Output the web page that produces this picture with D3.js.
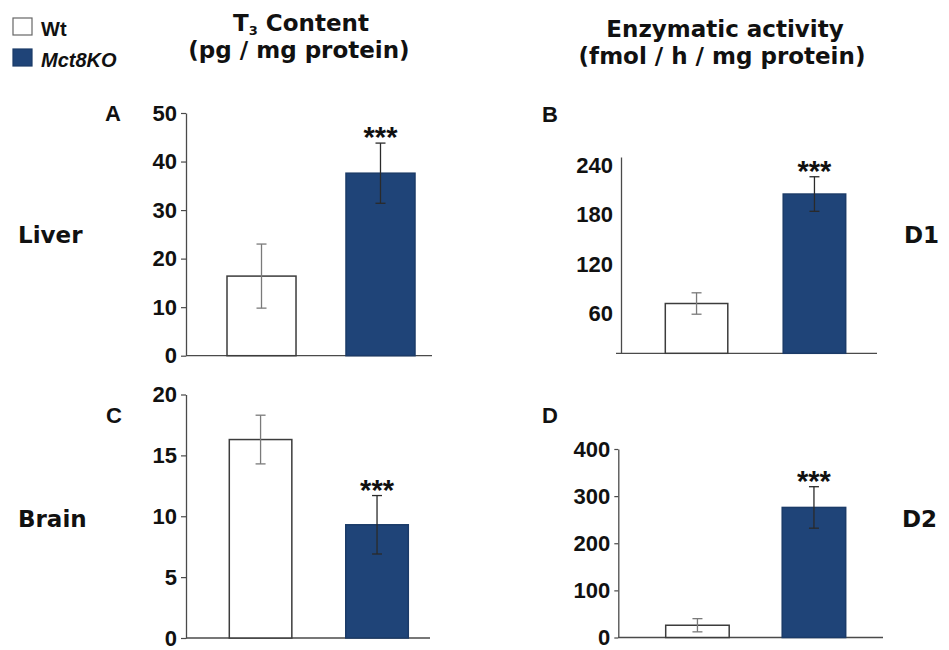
<!DOCTYPE html>
<html>
<head>
<meta charset="utf-8">
<script src="https://cdn.jsdelivr.net/npm/d3@7"></script>
<style>
  html, body { margin: 0; padding: 0; background: #fff; }
  svg { display: block; }
</style>
</head>
<body>
<svg id="fig" width="949" height="650"></svg>
<script>
// Genotypes
const groups = ["Wt", "Mct8KO"];
const groupFill = ["#ffffff", "#1f4478"];

// T3 content (pg / mg protein): mean and error
const liverT3 = [16.4, 37.6];
const liverT3Err = [6.6, 6.2];
const brainT3 = [16.3, 9.3];
const brainT3Err = [2.0, 2.4];

// Deiodinase activity (fmol / h / mg protein): mean and error
const d1Activity = [72, 205];
const d1Err = [13, 21];
const d2Activity = [26, 276];
const d2Err = [14, 44];

// Axis ticks and domains
const ticksA = [0, 10, 20, 30, 40, 50];
const ticksB = [60, 120, 180, 240];
const ticksC = [0, 5, 10, 15, 20];
const ticksD = [0, 100, 200, 300, 400];
const domainA = [0, 50];
const domainB = [11.5, 250];
const domainC = [0, 20];
const domainD = [0, 400];

const svg = d3.select("#fig");
const ink = "#111";
const arial = "'Liberation Sans', Arial, sans-serif";

// Panel layout
const panels = [
  { letter: "A", values: liverT3, errs: liverT3Err, ticks: ticksA, domain: domainA,
    axisX: 186, baseStart: 186, baseEnd: 432, y0: 355.7, y1: 113,
    band: [227, 415], pad: 0.42, tickLen: 5, letterPos: [105, 121] },
  { letter: "B", values: d1Activity, errs: d1Err, ticks: ticksB, domain: domainB,
    axisX: 621, baseStart: 616, baseEnd: 877, y0: 353.3, y1: 157,
    band: [665.3, 845.7], pad: 0.47, tickLen: 0, letterPos: [542, 122] },
  { letter: "C", values: brainT3, errs: brainT3Err, ticks: ticksC, domain: domainC,
    axisX: 186, baseStart: 186, baseEnd: 430, y0: 638, y1: 394.5,
    band: [229.3, 408.3], pad: 0.463, tickLen: 5, letterPos: [106, 423] },
  { letter: "D", values: d2Activity, errs: d2Err, ticks: ticksD, domain: domainD,
    axisX: 618.3, baseStart: 618.3, baseEnd: 883, y0: 637.5, y1: 449,
    band: [665.7, 845.7], pad: 0.455, tickLen: 4, letterPos: [542, 423] }
];

panels.forEach(p => {
  const g = svg.append("g");
  const y = d3.scaleLinear().domain(p.domain).range([p.y0, p.y1]);
  const x = d3.scaleBand().domain(groups).range(p.band).paddingInner(p.pad).paddingOuter(0);

  // y axis
  const yAxis = d3.axisLeft(y).tickValues(p.ticks).tickSize(p.tickLen).tickSizeOuter(0).tickPadding(p.tickLen ? 4 : 8);
  const ag = g.append("g").attr("transform", `translate(${p.axisX},0)`).call(yAxis);
  ag.select(".domain").attr("stroke", "#4a4a4a").attr("stroke-width", 1.3);
  ag.selectAll(".tick line").attr("stroke", "#4a4a4a").attr("stroke-width", 1.2);
  ag.selectAll(".tick text")
    .attr("fill", ink)
    .style("font-family", arial)
    .style("font-weight", "bold")
    .style("font-size", "22px");

  // baseline
  g.append("line")
    .attr("x1", p.baseStart).attr("x2", p.baseEnd)
    .attr("y1", p.y0).attr("y2", p.y0)
    .attr("stroke", "#4a4a4a").attr("stroke-width", 1.3);

  // bars
  g.selectAll("rect.bar").data(groups).join("rect")
    .attr("class", "bar")
    .attr("x", d => x(d))
    .attr("width", x.bandwidth())
    .attr("y", (d, i) => y(p.values[i]))
    .attr("height", (d, i) => p.y0 - y(p.values[i]))
    .attr("fill", (d, i) => groupFill[i])
    .attr("stroke", (d, i) => i === 0 ? "#3c3c3c" : "#1b3b68")
    .attr("stroke-width", 1.5);

  // error bars
  groups.forEach((grp, i) => {
    const cx = x(grp) + x.bandwidth() / 2;
    const hi = y(p.values[i] + p.errs[i]);
    const lo = y(p.values[i] - p.errs[i]);
    const col = i === 0 ? "#7a7a7a" : "#2a2a2a";
    const eg = g.append("g").attr("stroke", col).attr("stroke-width", 1.3);
    eg.append("line").attr("x1", cx).attr("x2", cx).attr("y1", hi).attr("y2", lo);
    eg.append("line").attr("x1", cx - 5).attr("x2", cx + 5).attr("y1", hi).attr("y2", hi);
    eg.append("line").attr("x1", cx - 5).attr("x2", cx + 5).attr("y1", lo).attr("y2", lo);
  });

  // significance marker over the knockout bar
  const kx = x(groups[1]) + x.bandwidth() / 2;
  const top = y(p.values[1] + p.errs[1]);
  const fs = 29;
  g.append("text")
    .attr("x", kx).attr("y", top - 12 + 0.56 * fs)
    .attr("text-anchor", "middle")
    .attr("fill", ink)
    .style("font-family", arial)
    .style("font-weight", "bold")
    .style("font-size", fs + "px")
    .text("***");

  // panel letter
  g.append("text")
    .attr("x", p.letterPos[0]).attr("y", p.letterPos[1])
    .attr("fill", ink)
    .style("font-family", arial)
    .style("font-weight", "bold")
    .style("font-size", "22px")
    .text(p.letter);
});

// Column titles
const titleFont = "'DejaVu Sans', Verdana, sans-serif";
function title(x, yy, parts) {
  const t = svg.append("text")
    .attr("x", x).attr("y", yy)
    .attr("text-anchor", "middle")
    .attr("fill", ink)
    .style("font-family", titleFont)
    .style("font-weight", "bold")
    .style("font-size", "23px");
  parts.forEach(pt => {
    const s = t.append("tspan").text(pt.text);
    if (pt.dy) s.attr("dy", pt.dy);
    if (pt.size) s.style("font-size", pt.size);
  });
}
title(301, 31, [{ text: "T" }, { text: "3", dy: 4, size: "13px" }, { text: " Content", dy: -4 }]);
title(299, 58, [{ text: "(pg / mg protein)" }]);
title(725, 37, [{ text: "Enzymatic activity" }]);
title(722, 64, [{ text: "(fmol / h / mg protein)" }]);

// Row and enzyme labels
const sideLabels = [
  { text: "Liver", x: 18, y: 243 },
  { text: "Brain", x: 18, y: 527 },
  { text: "D1", x: 904, y: 243 },
  { text: "D2", x: 902, y: 527 }
];
svg.selectAll("text.side").data(sideLabels).join("text")
  .attr("class", "side")
  .attr("x", d => d.x).attr("y", d => d.y)
  .attr("fill", ink)
  .style("font-family", titleFont)
  .style("font-weight", "bold")
  .style("font-size", "23px")
  .text(d => d.text);

// Legend
const legend = svg.append("g");
groups.forEach((grp, i) => {
  const yy = 18 + i * 31;
  legend.append("rect")
    .attr("x", 13).attr("y", yy).attr("width", 19).attr("height", 17)
    .attr("fill", groupFill[i])
    .attr("stroke", i === 0 ? "#666" : "#1b3b68")
    .attr("stroke-width", 1.2);
  legend.append("text")
    .attr("x", 41).attr("y", yy + 17.5)
    .attr("fill", ink)
    .style("font-family", arial)
    .style("font-weight", "bold")
    .style("font-style", i === 1 ? "italic" : "normal")
    .style("font-size", "20px")
    .text(grp);
});
</script>
</body>
</html>
